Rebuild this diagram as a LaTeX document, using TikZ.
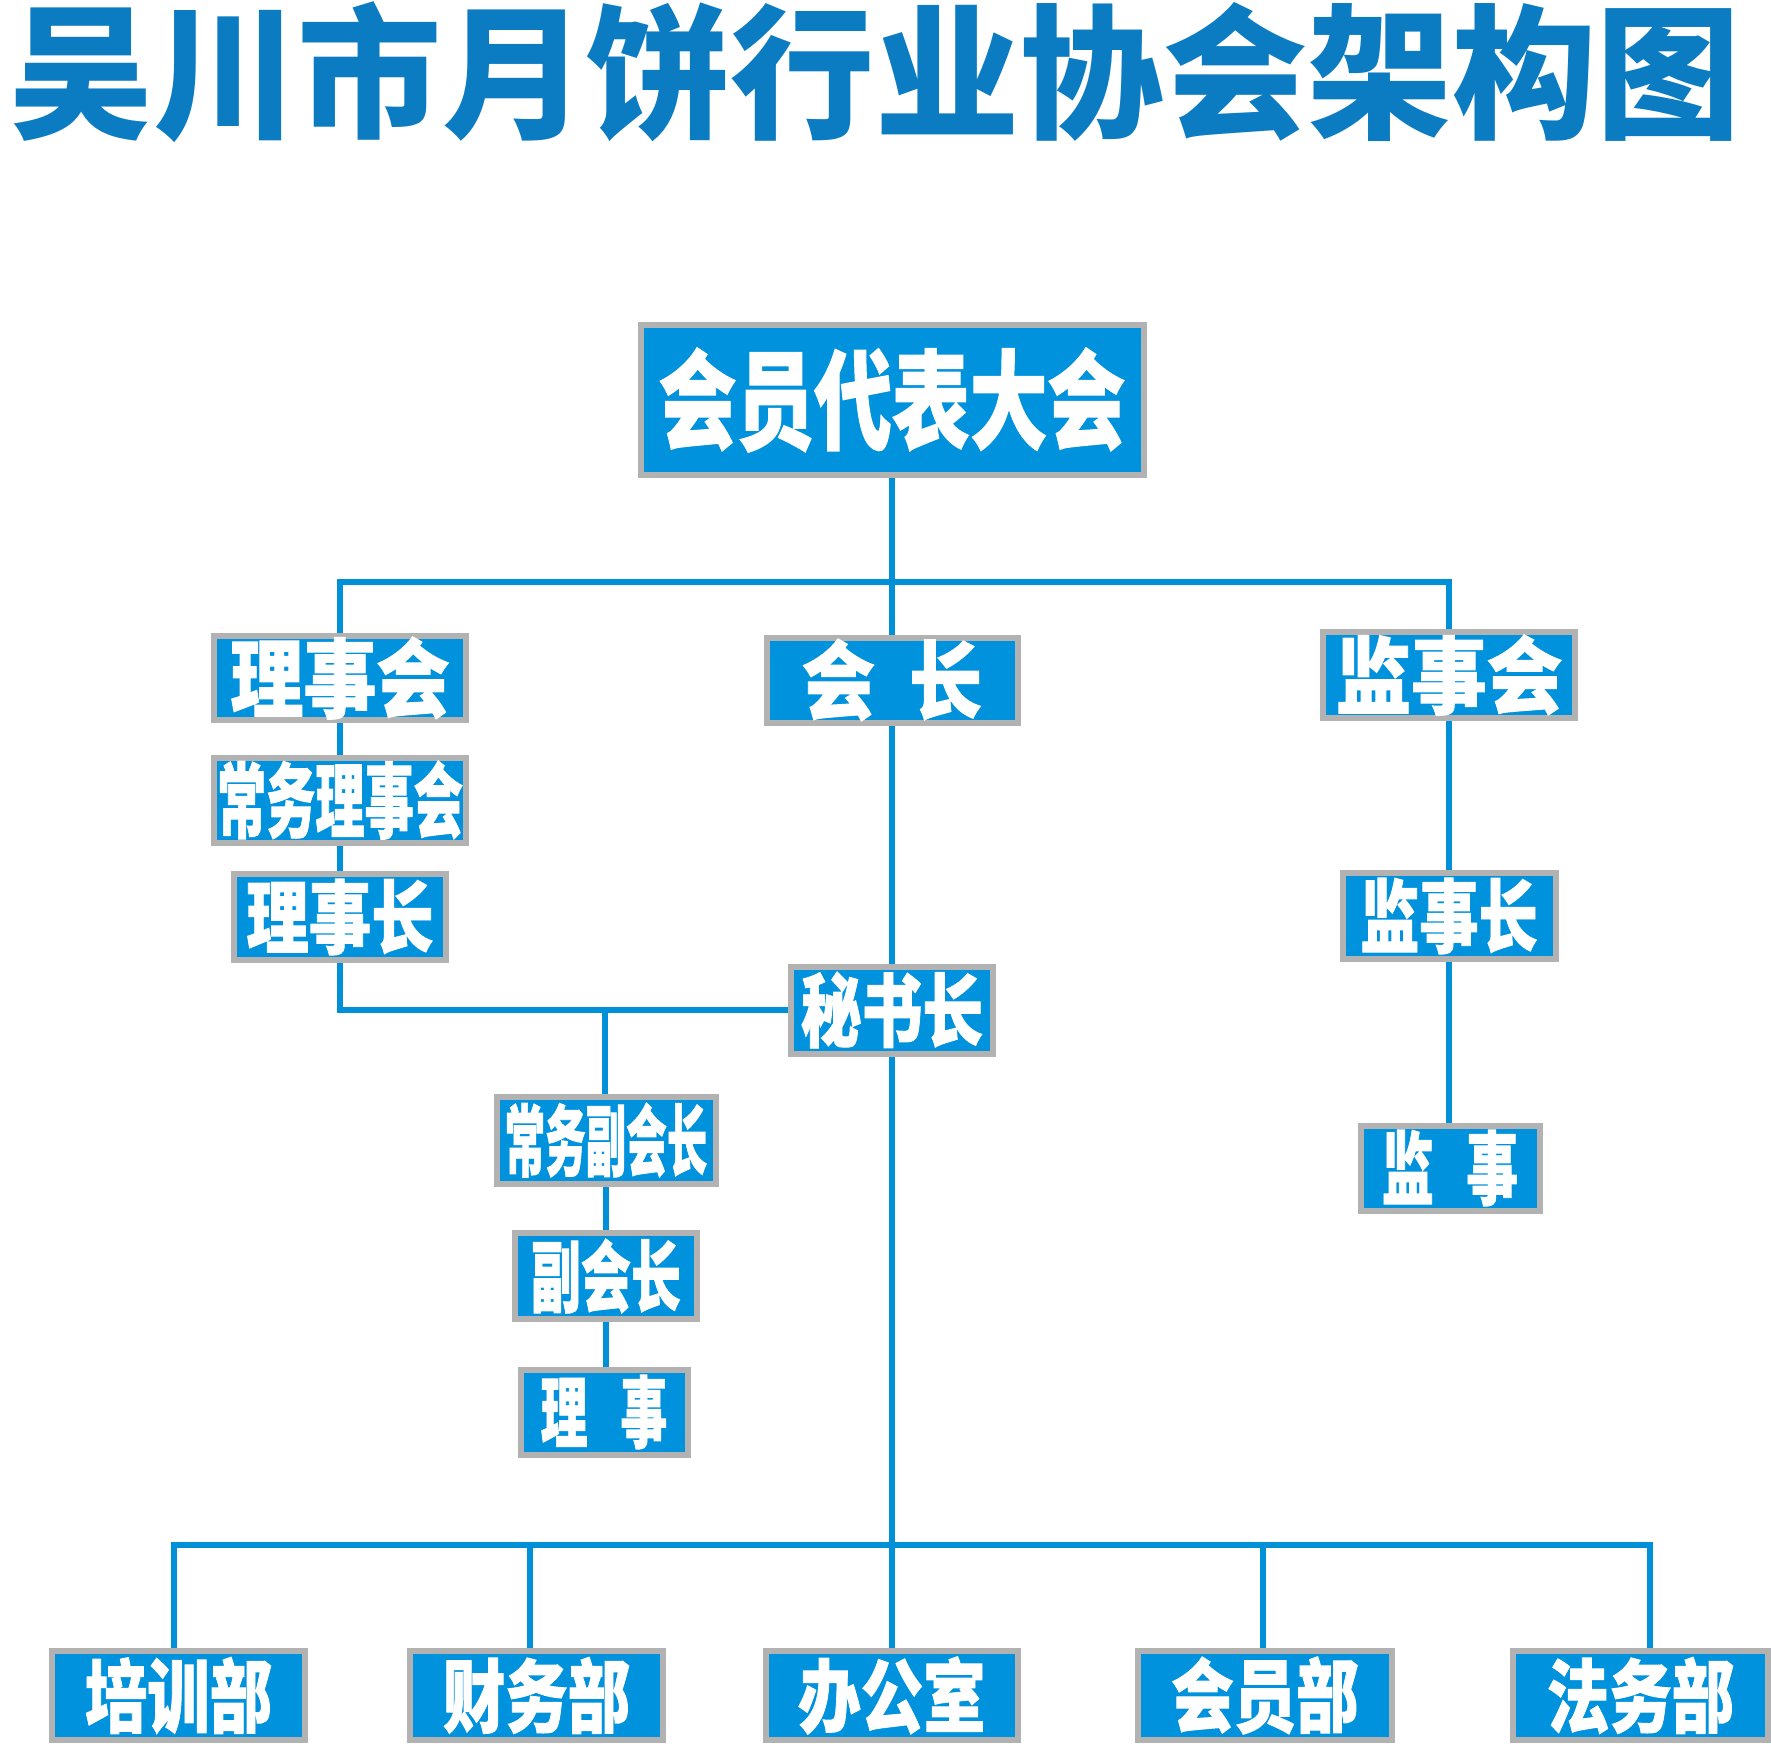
\documentclass[tikz,border=0pt]{standalone}
\usepackage{fontspec}
\newfontfamily\cjk{Noto Sans CJK SC}
\newfontfamily\cjkb{Noto Sans CJK SC}[BoldFeatures={FakeBold=1.2}]
\usetikzlibrary{backgrounds}
\definecolor{titleblue}{RGB}{11,123,194}
\definecolor{boxblue}{RGB}{0,146,221}
\definecolor{boxgray}{RGB}{178,178,178}
\definecolor{lineblue}{RGB}{0,144,216}
\newcommand{\sqz}[3]{\fontsize{#1pt}{#1pt}\selectfont\scalebox{#2}[1]{#3}}
\begin{document}
\begin{tikzpicture}[x=1pt,y=-1pt,
  box/.style={draw=boxgray, line width=6pt, fill=boxblue, inner sep=0pt, text=white, font=\cjkb\bfseries},
  conn/.style={draw=lineblue, line width=6pt}]
\useasboundingbox (0,0) rectangle (1771,1743);

% title
\node[font=\cjk\bfseries, text=titleblue, inner sep=0pt] (title) at (875,72)
  {\sqz{145}{0.995}{吴川市月饼行业协会架构图}};

% top
\node[box, minimum width=503pt, minimum height=150pt] (top) at (892,400) {\sqz{108}{0.72}{会员代表大会}};

% second row
\node[box, minimum width=252pt, minimum height=84pt] (lsh) at (340,678) {\sqz{86}{0.85}{理事会}};
\node[box, minimum width=251pt, minimum height=85pt] (hz) at (892,680) {\sqz{86}{0.85}{会\hspace{40pt}长}};
\node[box, minimum width=252pt, minimum height=86pt] (jsh) at (1449,675) {\sqz{84}{0.9}{监事会}};

% left chain
\node[box, minimum width=252pt, minimum height=85pt] (cwlsh) at (340,800) {\sqz{82}{0.6}{常务理事会}};
\node[box, minimum width=212pt, minimum height=86pt] (lsz) at (340,917) {\sqz{80}{0.78}{理事长}};

% right chain
\node[box, minimum width=213pt, minimum height=86pt] (jsz) at (1449,916) {\sqz{80}{0.74}{监事长}};
\node[box, minimum width=179pt, minimum height=85pt] (js) at (1450,1168) {\sqz{80}{0.65}{监\hspace{50pt}事}};

% centre
\node[box, minimum width=202pt, minimum height=87pt] (msz) at (892,1010) {\sqz{80}{0.76}{秘书长}};

% vice chain
\node[box, minimum width=219pt, minimum height=87pt] (cwfhz) at (606,1140) {\sqz{78}{0.52}{常务副会长}};
\node[box, minimum width=182pt, minimum height=86pt] (fhz) at (606,1276) {\sqz{78}{0.64}{副会长}};
\node[box, minimum width=167pt, minimum height=85pt] (ls) at (604,1412) {\sqz{78}{0.6}{理\hspace{55pt}事}};

% departments
\node[box, minimum width=253pt, minimum height=89pt] (b1) at (178.5,1695.5) {\sqz{80}{0.78}{培训部}};
\node[box, minimum width=253pt, minimum height=89pt] (b2) at (536.5,1695.5) {\sqz{80}{0.78}{财务部}};
\node[box, minimum width=252pt, minimum height=89pt] (b3) at (892,1695.5) {\sqz{80}{0.78}{办公室}};
\node[box, minimum width=254pt, minimum height=89pt] (b4) at (1265,1695.5) {\sqz{80}{0.78}{会员部}};
\node[box, minimum width=255pt, minimum height=89pt] (b5) at (1640.5,1695.5) {\sqz{80}{0.78}{法务部}};

\begin{scope}[on background layer]
\fill[white] (0,0) rectangle (1771,1743);
\coordinate (busT) at (892,582);
\coordinate (jL) at (605,1010);
\coordinate (d1) at (174,1545);
\coordinate (d2) at (530,1545);
\coordinate (d4) at (1263,1545);
\coordinate (d5) at (1650,1545);
\draw[conn] (top) -- (b3);
\draw[conn] (lsh) -- (lsh |- busT) -- (jsh |- busT) -- (jsh);
\draw[conn] (lsh) -- (cwlsh) -- (lsz) |- (msz);
\draw[conn] (jL) -- (jL |- cwfhz.north);
\draw[conn] (fhz) -- (fhz |- cwfhz.south);
\draw[conn] (fhz) -- (fhz |- ls.north);
\draw[conn] (jsh) -- (jsz) -- (jsz |- js.north);
\draw[conn] (d1 |- b1.north) -- (d1) -- (d5) -- (d5 |- b5.north);
\draw[conn] (d2) -- (d2 |- b2.north);
\draw[conn] (d4) -- (d4 |- b4.north);
\end{scope}
\end{tikzpicture}
\end{document}
